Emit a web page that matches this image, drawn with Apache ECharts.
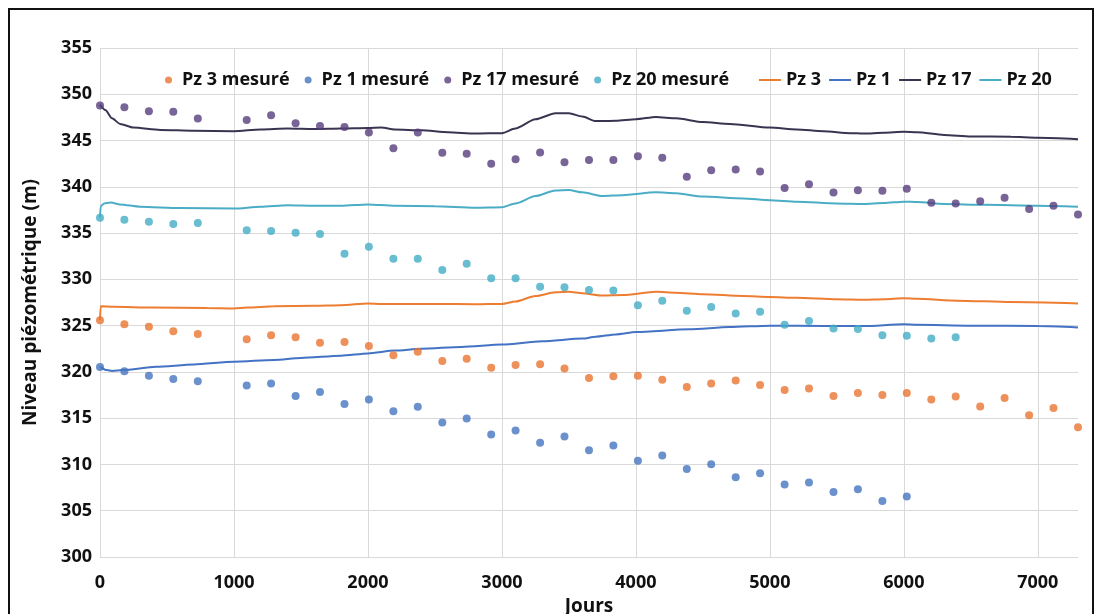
<!DOCTYPE html>
<html><head><meta charset="utf-8">
<script src="https://cdn.jsdelivr.net/npm/echarts@6/dist/echarts.min.js"></script>
<style>html,body{margin:0;padding:0;background:#fff}#c{width:1102px;height:614px}</style>
</head><body><div id="c"></div><script>
// Measurement days (semi-annual)
const days = [0,182,365,547,730,1095,1277,1460,1642,1825,2007,2190,2372,2555,2737,2920,3102,3285,3467,3650,3832,4015,4197,4380,4562,4745,4927,5110,5292,5475,5657,5840,6022,6205,6387,6570,6752,6935,7117,7300];

// Measured levels (m)
const pz3Mes = [325.58,325.14,324.89,324.39,324.1,323.52,323.95,323.74,323.16,323.23,322.8,321.79,322.19,321.18,321.43,320.45,320.74,320.82,320.38,319.34,319.52,319.59,319.16,318.36,318.76,319.08,318.58,318.04,318.22,317.39,317.71,317.5,317.71,317.03,317.35,316.27,317.17,315.33,316.09,314.03];
const pz1Mes = [320.53,320.06,319.59,319.23,318.98,318.54,318.76,317.39,317.82,316.52,317.03,315.76,316.23,314.54,314.97,313.24,313.67,312.34,313.02,311.54,312.05,310.39,310.97,309.52,310.03,308.62,309.05,307.83,308.04,307.03,307.32,306.06,306.53];
const pz17Mes = [348.78,348.6,348.17,348.1,347.37,347.23,347.73,346.87,346.58,346.47,345.86,344.17,345.86,343.67,343.56,342.48,342.99,343.7,342.66,342.9,342.9,343.3,343.13,341.08,341.8,341.87,341.65,339.86,340.29,339.39,339.64,339.57,339.78,338.27,338.2,338.45,338.81,337.59,337.95,337.01];
const pz20Mes = [336.65,336.44,336.22,335.97,336.1,335.32,335.22,335.04,334.89,332.77,333.53,332.23,332.23,331.0,331.69,330.11,330.11,329.2,329.14,328.85,328.81,327.19,327.7,326.62,327.01,326.3,326.5,325.1,325.5,324.7,324.64,323.96,323.92,323.6,323.74];

// Simulated levels: [day, level]
const pz3Sim = [[0,325.6],[5,327.1],[100,327.05],[400,326.95],[800,326.9],[1000,326.85],[1100,326.95],[1300,327.1],[1600,327.15],[1800,327.2],[2000,327.4],[2100,327.35],[2500,327.35],[2800,327.3],[3000,327.35],[3100,327.6],[3250,328.2],[3400,328.6],[3500,328.65],[3600,328.5],[3750,328.25],[3900,328.3],[4150,328.65],[4300,328.55],[4500,328.4],[4800,328.2],[5000,328.1],[5200,328.0],[5500,327.85],[5700,327.8],[5850,327.85],[6000,327.95],[6100,327.9],[6400,327.7],[6800,327.55],[7300,327.4]];
const pz1Sim = [[0,320.55],[50,320.2],[90,320.1],[170,320.2],[420,320.55],[700,320.8],[1000,321.1],[1300,321.3],[1500,321.5],[1800,321.75],[2000,322.0],[2200,322.3],[2400,322.5],[2700,322.7],[3000,322.95],[3300,323.3],[3600,323.6],[3700,323.8],[3850,324.05],[4000,324.3],[4400,324.6],[4700,324.85],[5000,325.0],[5400,324.95],[5700,324.95],[6000,325.15],[6100,325.1],[6500,325.0],[7000,324.95],[7300,324.8]];
const pz17Sim = [[0,348.85],[40,348.3],[90,347.4],[150,346.8],[250,346.4],[450,346.15],[700,346.05],[1000,346.0],[1200,346.2],[1400,346.3],[1600,346.25],[1800,346.3],[2000,346.35],[2100,346.4],[2200,346.2],[2400,346.1],[2600,345.9],[2800,345.75],[3000,345.8],[3100,346.3],[3250,347.3],[3400,347.95],[3500,347.95],[3600,347.6],[3700,347.1],[3850,347.15],[4000,347.3],[4150,347.55],[4300,347.4],[4500,347.0],[4700,346.8],[5000,346.4],[5200,346.2],[5400,346.0],[5600,345.8],[5700,345.75],[5850,345.85],[6000,345.95],[6100,345.9],[6300,345.6],[6500,345.45],[6800,345.4],[7000,345.3],[7300,345.15]];
const pz20Sim = [[0,336.7],[5,337.9],[30,338.2],[80,338.3],[150,338.1],[300,337.85],[600,337.7],[1000,337.65],[1200,337.85],[1400,338.0],[1600,337.95],[1800,337.95],[2000,338.1],[2200,337.95],[2500,337.9],[2800,337.75],[3000,337.8],[3100,338.2],[3250,339.0],[3400,339.6],[3500,339.65],[3600,339.4],[3750,339.0],[3900,339.1],[4150,339.4],[4300,339.3],[4500,338.95],[4800,338.75],[5000,338.55],[5200,338.4],[5500,338.2],[5700,338.15],[5850,338.25],[6000,338.4],[6100,338.35],[6300,338.15],[6600,338.05],[7000,337.95],[7300,337.85]];

const measNames = ['Pz 3 mesuré','Pz 1 mesuré','Pz 17 mesuré','Pz 20 mesuré'];
const simNames = ['Pz 3','Pz 1','Pz 17','Pz 20'];
const xAxisName = 'Jours';
const yAxisName = 'Niveau piézométrique (m)';

const FONT = "'Open Sans', 'DejaVu Sans', sans-serif";
const measColors = ['#EA7430','#4675C0','#563D7C','#42ADC6'];
const simColors = ['#ED7D31','#4472C4','#3A3450','#4BACC6'];

const pair = (vals) => vals.map((v, i) => [days[i], v]);
const measData = [pz3Mes, pz1Mes, pz17Mes, pz20Mes].map(pair);
const simData = [pz3Sim, pz1Sim, pz17Sim, pz20Sim];

const series = [];
measNames.forEach((n, i) => series.push({
  name: n, type: 'scatter', data: measData[i], symbol: 'circle', symbolSize: 8,
  itemStyle: { color: measColors[i] }, z: 3
}));
simNames.forEach((n, i) => series.push({
  name: n, type: 'line', data: simData[i], showSymbol: false, symbol: 'none',
  smooth: 0.25, smoothMonotone: 'x',
  lineStyle: { color: simColors[i], width: 2 }, itemStyle: { color: simColors[i] }, z: 2
}));

const gridColors = ['#D9D9D9','#D9D9D9','#D9D9D9','#D9D9D9','#D9D9D9','#D9D9D9','#D9D9D9','#D9D9D9','rgba(0,0,0,0)'];

const chart = echarts.init(document.getElementById('c'), null, { renderer: 'canvas' });
chart.setOption({
  backgroundColor: '#fff',
  animation: false,
  textStyle: { fontFamily: FONT },
  grid: { left: 100, right: 24, top: 48, bottom: 57, containLabel: false, outerBoundsMode: 'none' },
  legend: [{
    data: measNames.map(n => ({ name: n, icon: 'circle' })),
    left: 160, top: 66, itemWidth: 7, itemHeight: 7, itemGap: 15,
    textStyle: { fontFamily: FONT, fontWeight: 'bold', fontSize: 18, color: '#111', padding: [0, 0, 0, 5] }
  }, {
    data: simNames.map(n => ({ name: n, icon: 'rect' })),
    left: 754, top: 66, itemWidth: 22, itemHeight: 2, itemGap: 8,
    textStyle: { fontFamily: FONT, fontWeight: 'bold', fontSize: 18, color: '#111' }
  }],
  xAxis: {
    type: 'value', min: 0, max: 7300, interval: 1000,
    name: xAxisName, nameLocation: 'middle', nameGap: 39,
    nameTextStyle: { fontFamily: FONT, fontWeight: 'bold', fontSize: 19, color: '#111' },
    axisLine: { show: false }, axisTick: { show: false },
    axisLabel: { fontFamily: FONT, fontWeight: 'bold', fontSize: 18, color: '#111', margin: 17, showMaxLabel: false,
      formatter: v => String(v) },
    splitLine: { show: true, lineStyle: { color: gridColors, width: 1 } }
  },
  yAxis: {
    type: 'value', min: 300, max: 355, interval: 5,
    name: yAxisName, nameLocation: 'middle', nameGap: 60, nameRotate: 90,
    nameTextStyle: { fontFamily: FONT, fontWeight: 'bold', fontSize: 19, color: '#111' },
    axisLine: { show: false }, axisTick: { show: false },
    axisLabel: { fontFamily: FONT, fontWeight: 'bold', fontSize: 18, color: '#111', margin: 8, formatter: v => String(v) },
    splitLine: { show: true, lineStyle: { color: '#D9D9D9', width: 1 } }
  },
  graphic: [{
    type: 'rect', silent: true, z: 100,
    shape: { x: 9, y: 9, width: 1084, height: 700 },
    style: { fill: 'none', stroke: '#111', lineWidth: 2 }
  }],
  series: series
});
</script></body></html>
